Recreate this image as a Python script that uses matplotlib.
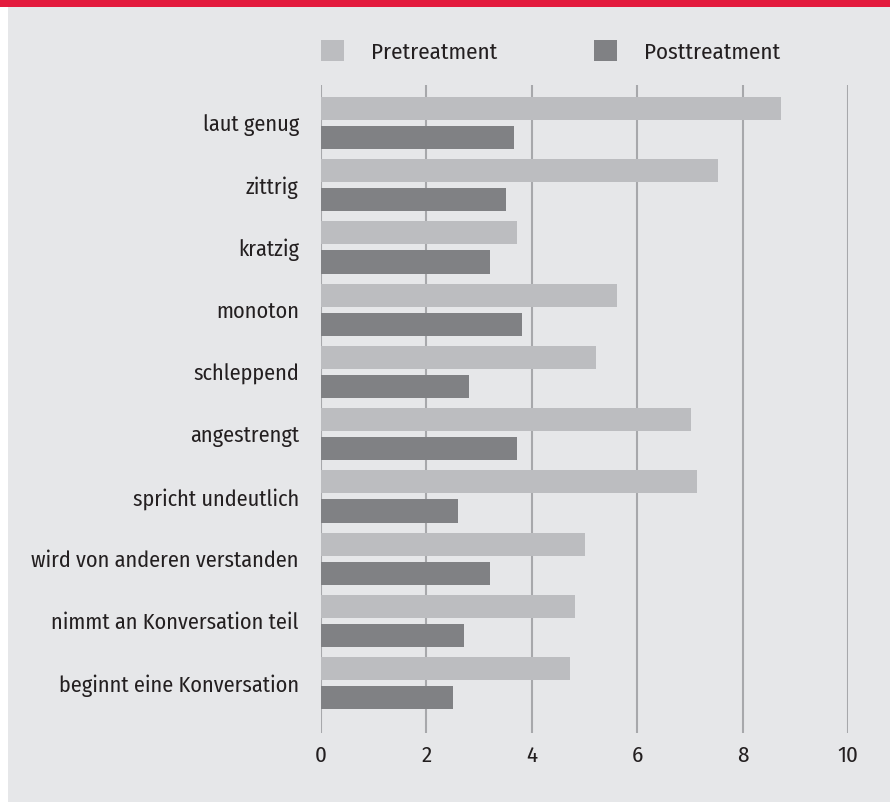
import matplotlib
matplotlib.use("Agg")
import matplotlib.pyplot as plt
from matplotlib.patches import Patch, Rectangle
import numpy as np

# Daten
categories = ["laut genug", "zittrig", "kratzig", "monoton", "schleppend",
              "angestrengt", "spricht undeutlich", "wird von anderen verstanden",
              "nimmt an Konversation teil", "beginnt eine Konversation"]
pretreatment = [8.73, 7.53, 3.72, 5.62, 5.22, 7.02, 7.13, 5.01, 4.82, 4.72]
posttreatment = [3.66, 3.51, 3.21, 3.81, 2.81, 3.72, 2.60, 3.21, 2.71, 2.50]
x_ticks = [0, 2, 4, 6, 8, 10]

# Farben
bg = "#e6e7e9"
col_pre = "#bcbdc0"
col_post = "#808184"
grid_col = "#a7a8ab"
text_col = "#231f20"
red = "#e31b3d"

plt.rcParams['font.family'] = ['Fira Sans Condensed', 'DejaVu Sans']

fig = plt.figure(figsize=(8.9, 8.02), dpi=100, facecolor=bg)
ax = fig.add_axes([0.3607, 0.0860, 0.5921, 0.808])
ax.set_facecolor(bg)

# Rahmen oben (rot) und weisser Rand links
fig.add_artist(Rectangle((0, 1 - 7 / 802), 1, 7 / 802, transform=fig.transFigure,
                         facecolor=red, edgecolor="none"))
fig.add_artist(Rectangle((0, 0), 8 / 890, 1 - 7 / 802, transform=fig.transFigure,
                         facecolor="white", edgecolor="none"))

y = np.arange(len(categories))
h = 0.37
off = 0.233
ax.barh(y - off, pretreatment, height=h, color=col_pre, zorder=2)
ax.barh(y + off, posttreatment, height=h, color=col_post, zorder=2)

ax.set_xlim(0, 10)
ax.set_ylim(9.80, -0.61)
ax.set_xticks(x_ticks)
ax.set_yticks(y)
ax.set_yticklabels(categories)
ax.tick_params(axis='y', length=0, pad=16, labelsize=16, labelcolor=text_col)
ax.tick_params(axis='x', length=0, pad=9, labelsize=16.5, labelcolor=text_col)

for v in x_ticks:
    ax.axvline(v, color=grid_col, linewidth=1.5, zorder=1)

for s in ax.spines.values():
    s.set_visible(False)

handles = [Patch(facecolor=col_pre, edgecolor="none", label="Pretreatment"),
           Patch(facecolor=col_post, edgecolor="none", label="Posttreatment")]
leg = ax.legend(handles=handles, ncol=2, frameon=False, loc='lower left',
                bbox_to_anchor=(0.0, 1.034), borderpad=0, borderaxespad=0,
                handlelength=1.0, handleheight=1.0, handletextpad=1.2,
                columnspacing=4.2, fontsize=16.5)
for t in leg.get_texts():
    t.set_color(text_col)

plt.savefig("out.png", dpi=100, facecolor=bg)
